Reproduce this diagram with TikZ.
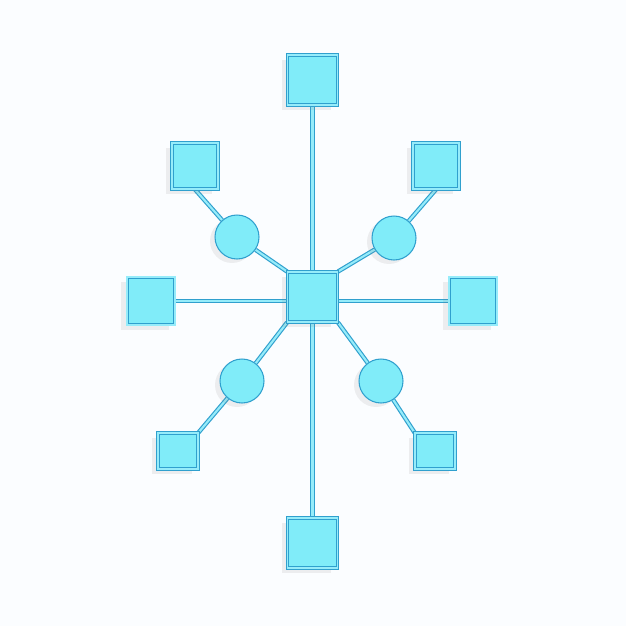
\documentclass[tikz,border=0pt]{standalone}
\usepackage{tikz}
\usetikzlibrary{shapes,positioning,shadows,backgrounds}
\definecolor{cyanfill}{RGB}{128,236,249}
\definecolor{cyanedge}{RGB}{48,160,206}
\definecolor{cyanlite}{RGB}{150,236,250}
\definecolor{paper}{RGB}{251,253,255}
\tikzset{
box/.style = {rectangle, fill=cyanfill, draw=cyanedge, line width=0.5pt, double=cyanlite, double distance=0.9pt,
drop shadow={opacity=0.12, shadow xshift=-0.12cm, shadow yshift=-0.1cm}},% carre
bigbox/.style = {box, minimum size=1cm},% carre grand
sidebox/.style = {box, minimum size=0.95cm},% carre lateral
midbox/.style = {box, minimum size=0.92cm},% carre moyen
smallbox/.style = {box, minimum width=0.8cm, minimum height=0.72cm},% carre petit
joint/.style = {circle, fill=cyanfill, draw=cyanedge, line width=0.6pt, minimum size=0.88cm, inner sep=0pt,
drop shadow={opacity=0.12, shadow xshift=-0.1cm, shadow yshift=-0.08cm}},% jonction ronde
wire/.style = {draw=cyanedge, line width=0.65pt, double=cyanlite, double distance=1.2pt}% liaison
}
\begin{document}
\begin{tikzpicture}[x=0.02cm, y=-0.02cm]
	\useasboundingbox (0,0) rectangle (626,626);
	% noeuds
	\node [bigbox] (hub) at (312.5,297) {};
	\node [bigbox] (top) at (312.5,80) {};
	\node [bigbox] (bot) at (312.5,543) {};
	\node [sidebox] (left) at (151,301) {};
	\node [sidebox] (right) at (473,301) {};
	\node [midbox] (ul) at (195,166) {};
	\node [midbox] (ur) at (436,166) {};
	\node [smallbox] (ll) at (178,451) {};
	\node [smallbox] (lr) at (435,451) {};
	\node [joint] (jul) at (237,237) {};
	\node [joint] (jur) at (394,238) {};
	\node [joint] (jll) at (242,381) {};
	\node [joint] (jlr) at (381,381) {};
	% fond et liaisons
	\begin{pgfonlayer}{background}
	\fill [paper] (0,0) rectangle (626,626);
	\draw [wire] (top) -- (bot);
	\draw [wire] (left) -- (right);
	\draw [wire] (hub.north west) -- (jul) -- (ul.south);
	\draw [wire] (hub.north east) -- (jur) -- (ur.south);
	\draw [wire] (hub.south west) -- (jll) -- (ll.north east);
	\draw [wire] (hub.south east) -- (jlr) -- (lr.north west);
	\end{pgfonlayer}
\end{tikzpicture}
\end{document}
